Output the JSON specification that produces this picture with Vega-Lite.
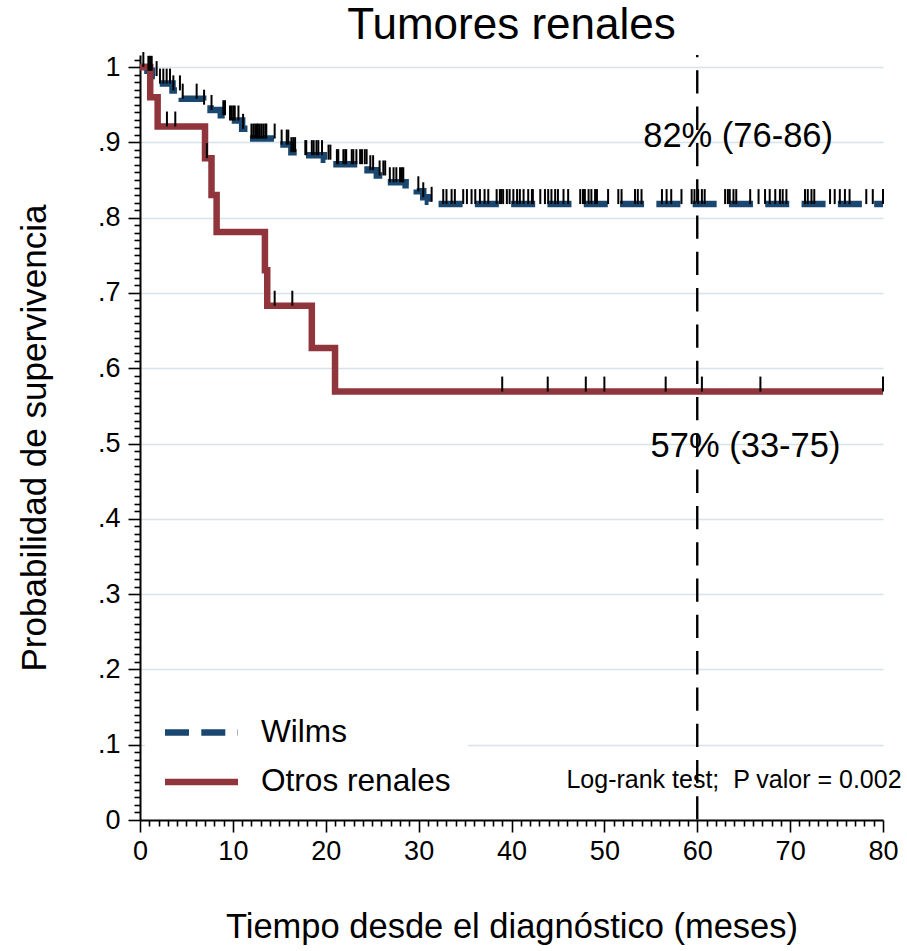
{
  "$schema": "https://vega.github.io/schema/vega-lite/v6.json",
  "width": 743,
  "height": 765,
  "autosize": {"type": "none"},
  "padding": {"left": 140, "top": 55, "right": 24, "bottom": 131},
  "background": "white",
  "title": {"text": "Tumores renales", "fontSize": 44, "font": "Liberation Sans", "fontWeight": "normal", "color": "black", "anchor": "middle", "offset": -2},
  "config": {"view": {"stroke": null}, "font": "Liberation Sans", "axis": {"labelOverlap": false, "labelFlush": false, "labelBound": false}},
  "datasets": {
    "curvas": [
      {"grupo": "Wilms", "t": 0, "s": 1.0},
      {"grupo": "Wilms", "t": 0.8, "s": 0.995},
      {"grupo": "Wilms", "t": 1.3, "s": 0.988},
      {"grupo": "Wilms", "t": 2.0, "s": 0.978},
      {"grupo": "Wilms", "t": 3.5, "s": 0.969},
      {"grupo": "Wilms", "t": 4.5, "s": 0.958},
      {"grupo": "Wilms", "t": 6.8, "s": 0.950},
      {"grupo": "Wilms", "t": 7.6, "s": 0.943},
      {"grupo": "Wilms", "t": 8.7, "s": 0.936},
      {"grupo": "Wilms", "t": 9.6, "s": 0.929},
      {"grupo": "Wilms", "t": 11.0, "s": 0.918},
      {"grupo": "Wilms", "t": 11.7, "s": 0.905},
      {"grupo": "Wilms", "t": 14.8, "s": 0.897},
      {"grupo": "Wilms", "t": 16.3, "s": 0.887},
      {"grupo": "Wilms", "t": 17.0, "s": 0.883},
      {"grupo": "Wilms", "t": 19.8, "s": 0.877},
      {"grupo": "Wilms", "t": 20.6, "s": 0.871},
      {"grupo": "Wilms", "t": 24.5, "s": 0.863},
      {"grupo": "Wilms", "t": 25.5, "s": 0.856},
      {"grupo": "Wilms", "t": 26.5, "s": 0.847},
      {"grupo": "Wilms", "t": 28.6, "s": 0.843},
      {"grupo": "Wilms", "t": 29.8, "s": 0.835},
      {"grupo": "Wilms", "t": 30.5, "s": 0.827},
      {"grupo": "Wilms", "t": 31.0, "s": 0.821},
      {"grupo": "Wilms", "t": 32.0, "s": 0.818},
      {"grupo": "Wilms", "t": 80, "s": 0.818},
      {"grupo": "Otros renales", "t": 0, "s": 1.0},
      {"grupo": "Otros renales", "t": 1.1, "s": 0.96},
      {"grupo": "Otros renales", "t": 1.9, "s": 0.921},
      {"grupo": "Otros renales", "t": 7.0, "s": 0.879},
      {"grupo": "Otros renales", "t": 7.7, "s": 0.830},
      {"grupo": "Otros renales", "t": 8.25, "s": 0.781},
      {"grupo": "Otros renales", "t": 13.45, "s": 0.730},
      {"grupo": "Otros renales", "t": 13.7, "s": 0.683},
      {"grupo": "Otros renales", "t": 18.5, "s": 0.627},
      {"grupo": "Otros renales", "t": 21.0, "s": 0.569},
      {"grupo": "Otros renales", "t": 80, "s": 0.569}
    ],
    "censuras": [
      {"grupo": "Wilms", "t": 0.36, "s": 1.0},
      {"grupo": "Wilms", "t": 0.9, "s": 0.995},
      {"grupo": "Wilms", "t": 1.08, "s": 0.995},
      {"grupo": "Wilms", "t": 1.26, "s": 0.995},
      {"grupo": "Wilms", "t": 1.79, "s": 0.988},
      {"grupo": "Wilms", "t": 2.15, "s": 0.978},
      {"grupo": "Wilms", "t": 2.51, "s": 0.978},
      {"grupo": "Wilms", "t": 2.87, "s": 0.978},
      {"grupo": "Wilms", "t": 3.23, "s": 0.978},
      {"grupo": "Wilms", "t": 3.59, "s": 0.969},
      {"grupo": "Wilms", "t": 4.3, "s": 0.969},
      {"grupo": "Wilms", "t": 4.6, "s": 0.958},
      {"grupo": "Wilms", "t": 6.1, "s": 0.958},
      {"grupo": "Wilms", "t": 6.9, "s": 0.950},
      {"grupo": "Wilms", "t": 7.7, "s": 0.943},
      {"grupo": "Wilms", "t": 8.97, "s": 0.936},
      {"grupo": "Wilms", "t": 9.15, "s": 0.936},
      {"grupo": "Wilms", "t": 9.69, "s": 0.929},
      {"grupo": "Wilms", "t": 9.87, "s": 0.929},
      {"grupo": "Wilms", "t": 10.05, "s": 0.929},
      {"grupo": "Wilms", "t": 10.2, "s": 0.929},
      {"grupo": "Wilms", "t": 10.6, "s": 0.929},
      {"grupo": "Wilms", "t": 11.1, "s": 0.918},
      {"grupo": "Wilms", "t": 12.0, "s": 0.905},
      {"grupo": "Wilms", "t": 12.2, "s": 0.905},
      {"grupo": "Wilms", "t": 12.4, "s": 0.905},
      {"grupo": "Wilms", "t": 12.6, "s": 0.905},
      {"grupo": "Wilms", "t": 12.7, "s": 0.905},
      {"grupo": "Wilms", "t": 12.9, "s": 0.905},
      {"grupo": "Wilms", "t": 13.1, "s": 0.905},
      {"grupo": "Wilms", "t": 13.3, "s": 0.905},
      {"grupo": "Wilms", "t": 13.5, "s": 0.905},
      {"grupo": "Wilms", "t": 13.6, "s": 0.905},
      {"grupo": "Wilms", "t": 14.5, "s": 0.905},
      {"grupo": "Wilms", "t": 15.25, "s": 0.897},
      {"grupo": "Wilms", "t": 15.8, "s": 0.897},
      {"grupo": "Wilms", "t": 15.97, "s": 0.897},
      {"grupo": "Wilms", "t": 16.3, "s": 0.887},
      {"grupo": "Wilms", "t": 16.5, "s": 0.887},
      {"grupo": "Wilms", "t": 16.7, "s": 0.887},
      {"grupo": "Wilms", "t": 17.8, "s": 0.883},
      {"grupo": "Wilms", "t": 17.9, "s": 0.883},
      {"grupo": "Wilms", "t": 18.5, "s": 0.883},
      {"grupo": "Wilms", "t": 18.7, "s": 0.883},
      {"grupo": "Wilms", "t": 19.0, "s": 0.883},
      {"grupo": "Wilms", "t": 19.2, "s": 0.883},
      {"grupo": "Wilms", "t": 19.6, "s": 0.883},
      {"grupo": "Wilms", "t": 20.3, "s": 0.877},
      {"grupo": "Wilms", "t": 20.5, "s": 0.877},
      {"grupo": "Wilms", "t": 21.2, "s": 0.871},
      {"grupo": "Wilms", "t": 21.35, "s": 0.871},
      {"grupo": "Wilms", "t": 21.9, "s": 0.871},
      {"grupo": "Wilms", "t": 22.1, "s": 0.871},
      {"grupo": "Wilms", "t": 22.2, "s": 0.871},
      {"grupo": "Wilms", "t": 22.8, "s": 0.871},
      {"grupo": "Wilms", "t": 22.97, "s": 0.871},
      {"grupo": "Wilms", "t": 23.3, "s": 0.871},
      {"grupo": "Wilms", "t": 23.7, "s": 0.871},
      {"grupo": "Wilms", "t": 23.9, "s": 0.871},
      {"grupo": "Wilms", "t": 24.2, "s": 0.871},
      {"grupo": "Wilms", "t": 24.4, "s": 0.871},
      {"grupo": "Wilms", "t": 24.8, "s": 0.863},
      {"grupo": "Wilms", "t": 25.1, "s": 0.863},
      {"grupo": "Wilms", "t": 25.8, "s": 0.856},
      {"grupo": "Wilms", "t": 26.2, "s": 0.856},
      {"grupo": "Wilms", "t": 26.4, "s": 0.856},
      {"grupo": "Wilms", "t": 26.9, "s": 0.847},
      {"grupo": "Wilms", "t": 27.3, "s": 0.847},
      {"grupo": "Wilms", "t": 27.6, "s": 0.847},
      {"grupo": "Wilms", "t": 28.0, "s": 0.847},
      {"grupo": "Wilms", "t": 28.2, "s": 0.847},
      {"grupo": "Wilms", "t": 28.35, "s": 0.847},
      {"grupo": "Wilms", "t": 29.97, "s": 0.835},
      {"grupo": "Wilms", "t": 30.5, "s": 0.827},
      {"grupo": "Wilms", "t": 31.4, "s": 0.821},
      {"grupo": "Wilms", "t": 32.65, "s": 0.818},
      {"grupo": "Wilms", "t": 33.0, "s": 0.818},
      {"grupo": "Wilms", "t": 33.55, "s": 0.818},
      {"grupo": "Wilms", "t": 33.9, "s": 0.818},
      {"grupo": "Wilms", "t": 34.8, "s": 0.818},
      {"grupo": "Wilms", "t": 35.2, "s": 0.818},
      {"grupo": "Wilms", "t": 35.7, "s": 0.818},
      {"grupo": "Wilms", "t": 36.1, "s": 0.818},
      {"grupo": "Wilms", "t": 36.6, "s": 0.818},
      {"grupo": "Wilms", "t": 37.1, "s": 0.818},
      {"grupo": "Wilms", "t": 37.5, "s": 0.818},
      {"grupo": "Wilms", "t": 38.4, "s": 0.818},
      {"grupo": "Wilms", "t": 38.75, "s": 0.818},
      {"grupo": "Wilms", "t": 38.9, "s": 0.818},
      {"grupo": "Wilms", "t": 39.1, "s": 0.818},
      {"grupo": "Wilms", "t": 39.5, "s": 0.818},
      {"grupo": "Wilms", "t": 39.8, "s": 0.818},
      {"grupo": "Wilms", "t": 40.2, "s": 0.818},
      {"grupo": "Wilms", "t": 40.6, "s": 0.818},
      {"grupo": "Wilms", "t": 40.9, "s": 0.818},
      {"grupo": "Wilms", "t": 41.3, "s": 0.818},
      {"grupo": "Wilms", "t": 41.8, "s": 0.818},
      {"grupo": "Wilms", "t": 42.2, "s": 0.818},
      {"grupo": "Wilms", "t": 42.3, "s": 0.818},
      {"grupo": "Wilms", "t": 43.1, "s": 0.818},
      {"grupo": "Wilms", "t": 43.6, "s": 0.818},
      {"grupo": "Wilms", "t": 43.95, "s": 0.818},
      {"grupo": "Wilms", "t": 44.3, "s": 0.818},
      {"grupo": "Wilms", "t": 44.7, "s": 0.818},
      {"grupo": "Wilms", "t": 45.0, "s": 0.818},
      {"grupo": "Wilms", "t": 45.6, "s": 0.818},
      {"grupo": "Wilms", "t": 46.1, "s": 0.818},
      {"grupo": "Wilms", "t": 47.4, "s": 0.818},
      {"grupo": "Wilms", "t": 47.7, "s": 0.818},
      {"grupo": "Wilms", "t": 47.9, "s": 0.818},
      {"grupo": "Wilms", "t": 48.3, "s": 0.818},
      {"grupo": "Wilms", "t": 48.6, "s": 0.818},
      {"grupo": "Wilms", "t": 49.0, "s": 0.818},
      {"grupo": "Wilms", "t": 49.2, "s": 0.818},
      {"grupo": "Wilms", "t": 50.4, "s": 0.818},
      {"grupo": "Wilms", "t": 51.5, "s": 0.818},
      {"grupo": "Wilms", "t": 51.85, "s": 0.818},
      {"grupo": "Wilms", "t": 53.3, "s": 0.818},
      {"grupo": "Wilms", "t": 53.6, "s": 0.818},
      {"grupo": "Wilms", "t": 54.0, "s": 0.818},
      {"grupo": "Wilms", "t": 56.2, "s": 0.818},
      {"grupo": "Wilms", "t": 56.7, "s": 0.818},
      {"grupo": "Wilms", "t": 57.2, "s": 0.818},
      {"grupo": "Wilms", "t": 58.3, "s": 0.818},
      {"grupo": "Wilms", "t": 59.4, "s": 0.818},
      {"grupo": "Wilms", "t": 59.7, "s": 0.818},
      {"grupo": "Wilms", "t": 60.1, "s": 0.818},
      {"grupo": "Wilms", "t": 60.5, "s": 0.818},
      {"grupo": "Wilms", "t": 60.8, "s": 0.818},
      {"grupo": "Wilms", "t": 63.0, "s": 0.818},
      {"grupo": "Wilms", "t": 63.3, "s": 0.818},
      {"grupo": "Wilms", "t": 63.5, "s": 0.818},
      {"grupo": "Wilms", "t": 63.9, "s": 0.818},
      {"grupo": "Wilms", "t": 64.2, "s": 0.818},
      {"grupo": "Wilms", "t": 65.7, "s": 0.818},
      {"grupo": "Wilms", "t": 66.6, "s": 0.818},
      {"grupo": "Wilms", "t": 67.3, "s": 0.818},
      {"grupo": "Wilms", "t": 67.8, "s": 0.818},
      {"grupo": "Wilms", "t": 68.4, "s": 0.818},
      {"grupo": "Wilms", "t": 68.9, "s": 0.818},
      {"grupo": "Wilms", "t": 69.2, "s": 0.818},
      {"grupo": "Wilms", "t": 69.6, "s": 0.818},
      {"grupo": "Wilms", "t": 71.6, "s": 0.818},
      {"grupo": "Wilms", "t": 71.9, "s": 0.818},
      {"grupo": "Wilms", "t": 72.3, "s": 0.818},
      {"grupo": "Wilms", "t": 72.6, "s": 0.818},
      {"grupo": "Wilms", "t": 74.3, "s": 0.818},
      {"grupo": "Wilms", "t": 74.8, "s": 0.818},
      {"grupo": "Wilms", "t": 75.35, "s": 0.818},
      {"grupo": "Wilms", "t": 75.9, "s": 0.818},
      {"grupo": "Wilms", "t": 76.4, "s": 0.818},
      {"grupo": "Wilms", "t": 78.2, "s": 0.818},
      {"grupo": "Wilms", "t": 78.9, "s": 0.818},
      {"grupo": "Wilms", "t": 80.0, "s": 0.818},
      {"grupo": "Otros renales", "t": 2.9, "s": 0.921},
      {"grupo": "Otros renales", "t": 3.8, "s": 0.921},
      {"grupo": "Otros renales", "t": 7.2, "s": 0.879},
      {"grupo": "Otros renales", "t": 14.5, "s": 0.683},
      {"grupo": "Otros renales", "t": 16.4, "s": 0.683},
      {"grupo": "Otros renales", "t": 39.0, "s": 0.569},
      {"grupo": "Otros renales", "t": 43.9, "s": 0.569},
      {"grupo": "Otros renales", "t": 48.0, "s": 0.569},
      {"grupo": "Otros renales", "t": 50.0, "s": 0.569},
      {"grupo": "Otros renales", "t": 56.6, "s": 0.569},
      {"grupo": "Otros renales", "t": 60.5, "s": 0.569},
      {"grupo": "Otros renales", "t": 66.8, "s": 0.569},
      {"grupo": "Otros renales", "t": 80.0, "s": 0.569}
    ]
  },
  "layer": [
    {
      "data": {"name": "curvas"},
      "mark": {"type": "line", "interpolate": "step-after", "strokeWidth": 6.5},
      "encoding": {
        "x": {
          "field": "t", "type": "quantitative",
          "scale": {"domain": [0, 80], "nice": false},
          "axis": {
            "title": "Tiempo desde el diagnóstico (meses)",
            "titleFontSize": 34.5, "titleFontWeight": "normal", "titleColor": "black", "titleFont": "Liberation Sans", "titlePadding": 46,
            "tickCount": 500,
            "values": [0,1,2,3,4,5,6,7,8,9,10,11,12,13,14,15,16,17,18,19,20,21,22,23,24,25,26,27,28,29,30,31,32,33,34,35,36,37,38,39,40,41,42,43,44,45,46,47,48,49,50,51,52,53,54,55,56,57,58,59,60,61,62,63,64,65,66,67,68,69,70,71,72,73,74,75,76,77,78,79,80],
            "labelExpr": "datum.value % 10 == 0 ? format(datum.value, 'd') : ''",
            "labelFontSize": 27, "labelColor": "black", "labelFont": "Liberation Sans", "labelPadding": 6, "labelAngle": 0,
            "labelFlush": false, "labelOverlap": false, "labelBound": false,
            "tickSize": {"condition": {"test": "datum.value % 10 == 0", "value": 12}, "value": 6},
            "tickColor": "black", "tickWidth": 1.6,
            "domainColor": "black", "domainWidth": 2,
            "grid": false
          }
        },
        "y": {
          "field": "s", "type": "quantitative",
          "scale": {"domain": [0, 1.016], "nice": false},
          "axis": {
            "title": "Probabilidad de supervivencia",
            "titleFontSize": 35, "titleFontWeight": "normal", "titleColor": "black", "titleFont": "Liberation Sans", "titlePadding": 45,
            "tickCount": 500,
            "values": [0,0.01,0.02,0.03,0.04,0.05,0.06,0.07,0.08,0.09,0.1,0.11,0.12,0.13,0.14,0.15,0.16,0.17,0.18,0.19,0.2,0.21,0.22,0.23,0.24,0.25,0.26,0.27,0.28,0.29,0.3,0.31,0.32,0.33,0.34,0.35,0.36,0.37,0.38,0.39,0.4,0.41,0.42,0.43,0.44,0.45,0.46,0.47,0.48,0.49,0.5,0.51,0.52,0.53,0.54,0.55,0.56,0.57,0.58,0.59,0.6,0.61,0.62,0.63,0.64,0.65,0.66,0.67,0.68,0.69,0.7,0.71,0.72,0.73,0.74,0.75,0.76,0.77,0.78,0.79,0.8,0.81,0.82,0.83,0.84,0.85,0.86,0.87,0.88,0.89,0.9,0.91,0.92,0.93,0.94,0.95,0.96,0.97,0.98,0.99,1,1.01],
            "labelExpr": "abs(datum.value*10 - round(datum.value*10)) < 0.001 ? (datum.value < 0.001 ? '0' : (datum.value > 0.999 ? '1' : replace(format(datum.value, '.1f'), '0.', '.'))) : ''",
            "labelFontSize": 27, "labelColor": "black", "labelFont": "Liberation Sans", "labelPadding": 8,
            "labelFlush": false, "labelOverlap": false, "labelBound": false,
            "tickSize": {"condition": {"test": "abs(datum.value*10 - round(datum.value*10)) < 0.001", "value": 12}, "value": 6},
            "tickColor": "black", "tickWidth": 1.6,
            "domainColor": "black", "domainWidth": 2,
            "grid": true, "gridColor": "#d7e2ea", "gridWidth": 1.6,
            "gridOpacity": {"condition": {"test": "abs(datum.value*10 - round(datum.value*10)) < 0.001 && datum.value > 0.001", "value": 1}, "value": 0}
          }
        },
        "color": {
          "field": "grupo", "type": "nominal",
          "scale": {"domain": ["Wilms", "Otros renales"], "range": ["#1a476f", "#90353b"]},
          "legend": {
            "title": null, "orient": "bottom-left", "offset": 5, "padding": 17, "fillColor": "white",
            "symbolType": "M-2,0L2,0", "symbolSize": 1332, "symbolStrokeWidth": 6.5, "symbolOffset": 18,
            "labelFontSize": 31.6, "labelFont": "Liberation Sans", "labelColor": "black", "labelOffset": 38,
            "rowPadding": 11.5, "labelLimit": 400
          }
        },
        "strokeDash": {
          "field": "grupo", "type": "nominal",
          "scale": {"domain": ["Wilms", "Otros renales"], "range": [[24, 12.3], [1, 0]]},
          "legend": {
            "title": null, "orient": "bottom-left", "offset": 5, "padding": 17, "fillColor": "white",
            "symbolType": "M-2,0L2,0", "symbolSize": 1332, "symbolStrokeWidth": 6.5, "symbolOffset": 18,
            "labelFontSize": 31.6, "labelFont": "Liberation Sans", "labelColor": "black", "labelOffset": 38,
            "rowPadding": 11.5, "labelLimit": 400
          }
        }
      }
    },
    {
      "data": {"values": [{"t": 60}]},
      "mark": {"type": "rule", "color": "black", "strokeWidth": 2.4, "strokeDash": [23.3, 13], "strokeDashOffset": 21},
      "encoding": {"x": {"field": "t", "type": "quantitative"}}
    },
    {
      "data": {"name": "censuras"},
      "mark": {"type": "point", "shape": "M0,0L0,-1", "size": 900, "filled": false, "color": "black", "strokeWidth": 2, "opacity": 1},
      "encoding": {
        "x": {"field": "t", "type": "quantitative"},
        "y": {"field": "s", "type": "quantitative"}
      }
    },
    {
      "data": {"values": [{"etiqueta": "82% (76-86)"}]},
      "mark": {"type": "text", "fontSize": 34.5, "font": "Liberation Sans", "color": "black", "align": "center", "baseline": "middle"},
      "encoding": {"x": {"datum": 64.4}, "y": {"datum": 0.907}, "text": {"field": "etiqueta"}}
    },
    {
      "data": {"values": [{"etiqueta": "57% (33-75)"}]},
      "mark": {"type": "text", "fontSize": 34.5, "font": "Liberation Sans", "color": "black", "align": "center", "baseline": "middle"},
      "encoding": {"x": {"datum": 65.2}, "y": {"datum": 0.495}, "text": {"field": "etiqueta"}}
    },
    {
      "data": {"values": [{"etiqueta": "Log-rank test;\u00a0 P valor = 0.002"}]},
      "mark": {"type": "text", "fontSize": 25, "font": "Liberation Sans", "color": "black", "align": "right", "baseline": "middle"},
      "encoding": {"x": {"datum": 82.0}, "y": {"datum": 0.053}, "text": {"field": "etiqueta"}}
    }
  ]
}
